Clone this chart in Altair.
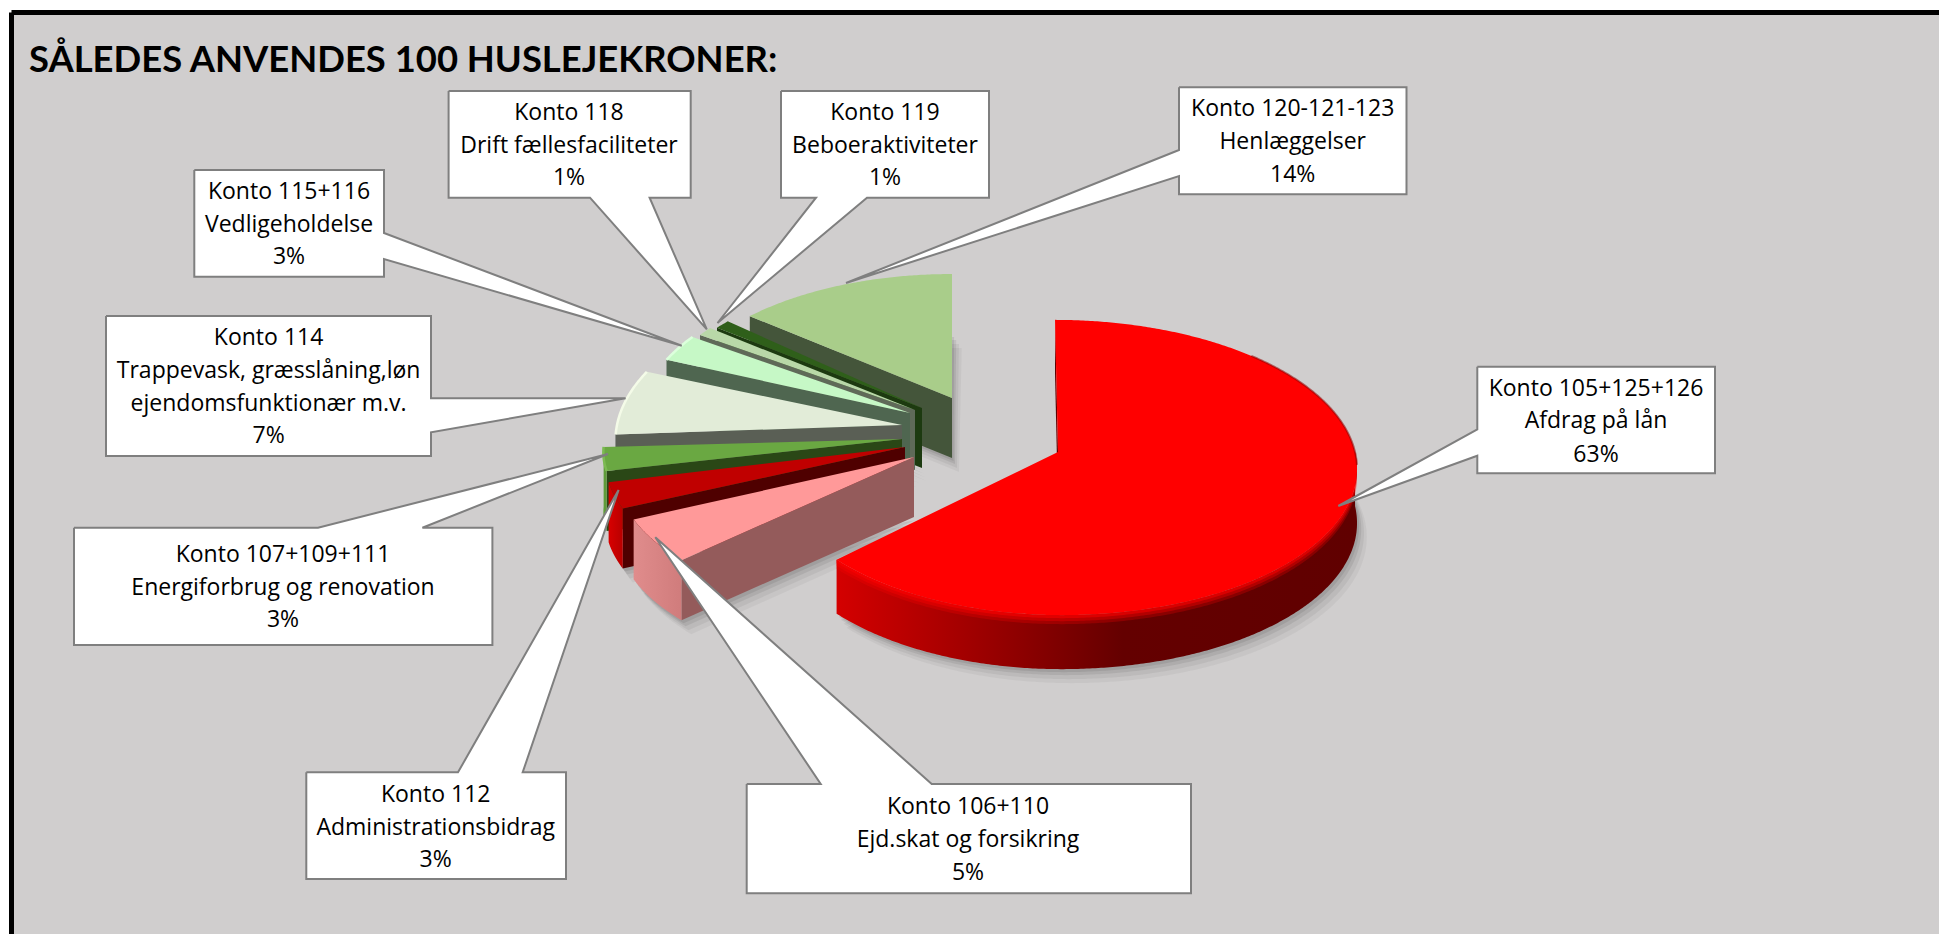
import math
import altair as alt

W, H = 1931, 927
TITLE = "SÅLEDES ANVENDES 100 HUSLEJEKRONER:"
ACCOUNTS = ["Konto 105+125+126", "Konto 106+110", "Konto 112", "Konto 107+109+111", "Konto 114",
            "Konto 115+116", "Konto 118", "Konto 119", "Konto 120-121-123"]
VALUES = [63, 5, 3, 3, 7, 3, 1, 1, 14]
NAMES = [["Afdrag på lån"], ["Ejd.skat og forsikring"], ["Administrationsbidrag"],
         ["Energiforbrug og renovation"], ["Trappevask, græsslåning,løn", "ejendomsfunktionær m.v."],
         ["Vedligeholdelse"], ["Drift fællesfaciliteter"], ["Beboeraktiviteter"], ["Henlæggelser"]]
PCT = ["63%", "5%", "3%", "3%", "7%", "3%", "1%", "1%", "14%"]

# exploded position and projected radii of each slice: apex x, apex y, right radius, left radius, height radius, depth
GEOM = [(1058, 452, 297, 285, 146, 54), (914, 457, 296, 296, 140, 60), (905, 447, 298, 298, 138, 60),
        (902, 439, 297, 297, 125, 60), (902, 425, 285, 285, 150, 60), (910, 413, 272, 272, 150, 60),
        (915, 410, 269, 269, 148, 60), (922, 408, 269, 269, 145, 60), (952, 398, 280, 280, 137, 60)]
TOP = ["#ff0000", "#ff9999", "#c00000", "#6aa842", "#e2ecd8", "#c6f8c6", "#b9d8a8", "#2f5f1a", "#a9cd8a"]
WALL = ["#600000", "#945b5b", "#4f0000", "#2a4716", "#5a5f55", "#4f6650", "#5f6a58", "#1d3a10", "#44553a"]
RIM = ["#d00000", "#d98080", "#c80000", "#5f9c3a", "#5a5f55", "#4f6650", "#5f6a58", "#1d3a10", "#44553a"]
EDGE = [None, None, None, "#7cba52", "#f4fbe8", "#dcffdc", None, None, None]
K = 0.105

# callouts: box left, right, top, bottom, side of pointer, base start, base end, tip x, tip y
BOXES = [(1477.3, 1715, 366.7, 473.3, "left", 429.3, 455.7, 1338.3, 506),
         (746.7, 1191, 784, 893.3, "top", 820.7, 931.7, 655.3, 537.3),
         (306.3, 566, 772.3, 879, "top", 458, 522.7, 618.6, 490),
         (74, 492.4, 527.7, 645, "top", 318, 422.4, 608, 454),
         (106, 431, 316, 456, "right", 398.3, 432.3, 625.6, 398.3),
         (194.3, 384, 170, 276.7, "right", 233, 259, 681.8, 345.7),
         (448.6, 690.7, 91, 197.7, "bottom", 590, 649.6, 706.8, 329.3),
         (781, 989, 91, 197.7, "bottom", 816, 867, 717.5, 323),
         (1179, 1406.5, 87.3, 194.3, "left", 150, 176, 846, 283)]
TEXT_X = [1596, 968, 435.7, 283, 268.6, 289, 569, 885, 1292.7]
TEXT_Y = [[389.3, 420.7, 455], [806.7, 840, 873], [795, 827.7, 860], [555, 587.7, 620],
          [338.3, 371, 404, 436], [191.7, 225, 256.7], [112.7, 146, 178], [112.7, 146, 178], [109, 141.7, 175]]

XS = alt.Scale(domain=[8, 8 + W], range=[0, W], nice=False, zero=False)
YS = alt.Scale(domain=[8, 8 + H], range=[0, H], nice=False, zero=False)


def poly(pts, fill=None, stroke="transparent", sw=0, opacity=1.0):
    vals = [{"x": p[0], "y": p[1], "i": i} for i, p in enumerate(pts)]
    kw = {"stroke": stroke, "strokeWidth": sw, "opacity": opacity, "interpolate": "linear", "strokeJoin": "miter"}
    if fill is not None:
        kw["fill"] = fill
    return alt.Chart(alt.Data(values=vals)).mark_line(**kw).encode(
        x=alt.X("x:Q", scale=XS, axis=None),
        y=alt.Y("y:Q", scale=YS, axis=None),
        order=alt.Order("i:Q"),
    )


def grad(stops):
    return alt.Gradient(gradient="linear", x1=0, y1=0, x2=1, y2=0,
                        stops=[alt.GradientStop(color=c, offset=o) for o, c in stops])


def pt(g, deg, dy=0.0, dx=0.0):
    ax, ay, rr, rl, h, _ = g
    t = math.radians(deg)
    s, c = math.sin(t), math.cos(t)
    w = 1 + K * c
    r = rr if s >= 0 else rl
    skew = -3.3 if g is GEOM[0] else 0
    return (ax + dx + (r * s + skew * c) / w, ay + dy - h * c / w)


def arc(g, a, b, dy=0.0, dx=0.0):
    n = max(2, int(abs(b - a) * 2))
    return [pt(g, a + (b - a) * i / n, dy, dx) for i in range(n + 1)]


layers = []
# background and heavy frame
layers.append(poly([(11.5, 12.5), (1965, 12.5), (1965, 950), (11.5, 950), (11.5, 12.5)],
                   fill="#d0cece", stroke="#000000", sw=5))

# angle range of every slice comes from the values
angles, cum = [], 0.0
for v in VALUES:
    angles.append((cum * 3.6, (cum + v) * 3.6))
    cum += v

# soft drop shadows
for idx in range(len(VALUES)):
    g = GEOM[idx]
    a, b = angles[idx]
    d = g[5]
    for grow, op in [(14, 0.04), (10, 0.05), (6, 0.07), (3, 0.08)]:
        shadow = [(g[0] + grow * 0.5, g[1] + d + grow)] + arc(g, a, b, d + grow, grow * 0.7)
        layers.append(poly(shadow, fill="#000000", opacity=op))

# slices painted back to front
for idx in list(range(1, len(VALUES)))[::-1] + [0]:
    g = GEOM[idx]
    a, b = angles[idx]
    d = g[5]
    start = pt(g, a)
    apex = (g[0], g[1])
    layers.append(poly([apex, start, (start[0], start[1] + d), (apex[0], apex[1] + d)], fill=WALL[idx]))
    ra, rb = max(a, 90), min(b, 270)
    if rb > ra:
        top_arc = arc(g, ra, rb)
        low_arc = arc(g, ra, rb, d)
        if idx == 0:
            fill = grad([(0, "#d40000"), (0.28, "#9c0000"), (0.55, "#640000"), (1, "#600000")])
        elif idx == 1:
            fill = grad([(0, "#e08c8c"), (1, "#d07c7c")])
        elif idx == 2:
            fill = grad([(0, "#d80000"), (1, "#b80000")])
        else:
            fill = RIM[idx]
        layers.append(poly(top_arc + low_arc[::-1], fill=fill))
        if idx == 0:
            for off, op in [(9, 0.25), (6, 0.35), (3, 0.5)]:
                layers.append(poly(top_arc + arc(g, ra, rb, off)[::-1], fill="#ff0000", opacity=op))
    layers.append(poly([apex] + arc(g, a, b), fill=TOP[idx]))
    if EDGE[idx]:
        layers.append(poly(arc(g, a, b), stroke=EDGE[idx], sw=2.5))

# dark soft edge on the far right of the large slice
layers.append(poly(arc(GEOM[0], 45, 95), stroke="#900000", sw=2, opacity=0.55))

# callouts
for (l, r, t, b, side, s0, s1, tx, ty) in BOXES:
    if side == "left":
        pts = [(l, t), (r, t), (r, b), (l, b), (l, s1), (tx, ty), (l, s0), (l, t)]
    elif side == "right":
        pts = [(l, t), (r, t), (r, s0), (tx, ty), (r, s1), (r, b), (l, b), (l, t)]
    elif side == "top":
        pts = [(l, t), (s0, t), (tx, ty), (s1, t), (r, t), (r, b), (l, b), (l, t)]
    else:
        pts = [(l, t), (r, t), (r, b), (s1, b), (tx, ty), (s0, b), (l, b), (l, t)]
    layers.append(poly(pts, fill="#ffffff", stroke="#7f7f7f", sw=2))

rows = []
for i, acc in enumerate(ACCOUNTS):
    for line, y in zip([acc] + NAMES[i] + [PCT[i]], TEXT_Y[i]):
        rows.append({"x": TEXT_X[i], "y": y, "t": line})
layers.append(alt.Chart(alt.Data(values=rows)).mark_text(
    font="Open Sans", fontSize=23, color="#000000", align="center", baseline="middle").encode(
    x=alt.X("x:Q", scale=XS, axis=None), y=alt.Y("y:Q", scale=YS, axis=None), text="t:N"))

layers.append(alt.Chart(alt.Data(values=[{"x": 29, "y": 60.5, "t": TITLE}])).mark_text(
    font="Lato", fontSize=36.4, fontWeight="bold", color="#000000", align="left", baseline="middle").encode(
    x=alt.X("x:Q", scale=XS, axis=None), y=alt.Y("y:Q", scale=YS, axis=None), text="t:N"))

chart = alt.layer(*layers).properties(
    width=W, height=H, padding=0, background="white",
    autosize=alt.AutoSizeParams(type="none"),
).configure_view(stroke=None)

chart.save("out.html", embed_options={"renderer": "svg", "actions": False})
